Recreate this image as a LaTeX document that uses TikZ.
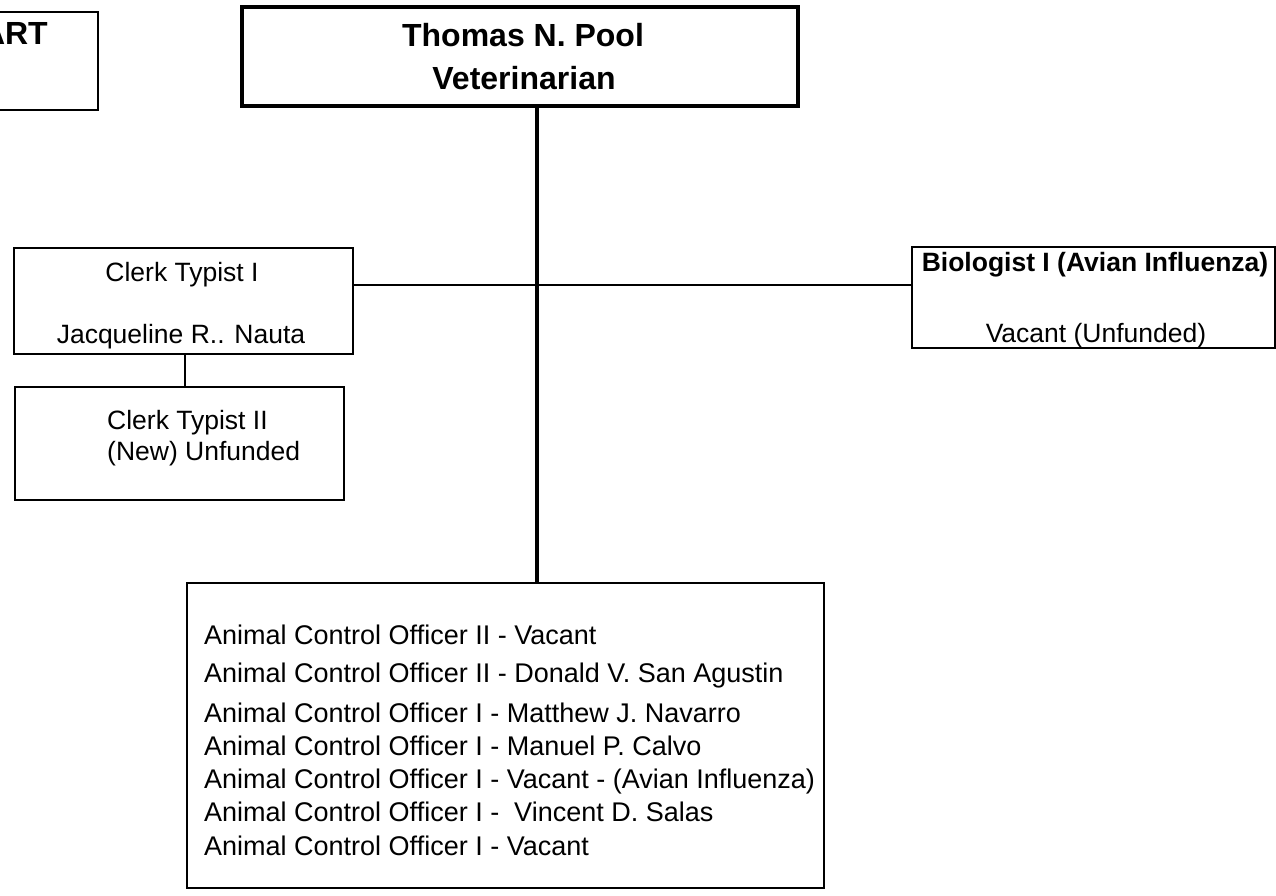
\documentclass[tikz,border=0pt]{standalone}
\usepackage{fontspec}
\setmainfont{Liberation Sans}
\begin{document}
\begin{tikzpicture}[x=1pt,y=-1pt,
  box/.style={draw, line width=1.8pt, inner sep=0pt, outer sep=0pt, anchor=north west},
  headbox/.style={box, line width=4pt},
  wire/.style={line width=1.5pt},
  trunkline/.style={line width=4pt},
  txt/.style={inner sep=0pt, anchor=base, font=\fontsize{26.5}{30}\selectfont},
  txtl/.style={txt, anchor=base west},
  listtxt/.style={inner sep=0pt, anchor=base west, font=\fontsize{27}{31}\selectfont},
  bold/.style={inner sep=0pt, anchor=base, font=\fontsize{26.5}{30}\selectfont\bfseries},
  title/.style={inner sep=0pt, anchor=base, font=\fontsize{32}{37}\selectfont\bfseries}]
\useasboundingbox (0,0) rectangle (1276,895);
\clip (0,0) rectangle (1276,895);

% boxes
\node[box, minimum width=108pt, minimum height=98pt] (chartbox) at (-10,12) {};
\node[headbox, minimum width=556pt, minimum height=99pt] (main) at (242,7) {};
\node[box, minimum width=339pt, minimum height=106pt] (clerk) at (14,248) {};
\node[box, minimum width=329pt, minimum height=113pt] (clerktwo) at (15,387) {};
\node[box, minimum width=363pt, minimum height=101pt] (bio) at (912,247) {};
\node[box, line width=2.4pt, minimum width=637pt, minimum height=305pt] (officers) at (187,583) {};

% helper coordinates for the connector lines
\coordinate (trunk) at (537,0);
\coordinate (branch) at (0,285);

% connectors
\draw[trunkline] (main.south -| trunk) -- (officers.north -| trunk);
\draw[wire] (clerk.east |- branch) -- (bio.west |- branch);
\draw[wire] (clerk.south -| 185,0) -- (clerktwo.north -| 185,0);

% texts
\node[title, anchor=base east] (charttxt) at (48,44) {ART};
\node[title] (mainname) at (523,46) {Thomas N. Pool};
\node[title] (maintitle) at (524,89) {Veterinarian};

\node[txt] (clerkpos) at (182,281) {Clerk Typist I};
\node[txt] (clerkname) at (181,343) {Jacqueline R.. Nauta};

\node[txtl] (clerktwopos) at (107,429) {Clerk Typist II};
\node[txtl] (clerktwoname) at (107,460) {(New) Unfunded};

\node[bold] (biopos) at (1095,271) {Biologist I (Avian Influenza)};
\node[txt] (bioname) at (1096,342) {Vacant (Unfunded)};

\node[listtxt] (aco1) at (204,644) {Animal Control Officer II - Vacant};
\node[listtxt] (aco2) at (204,682) {Animal Control Officer II - Donald V. San Agustin};
\node[listtxt] (aco3) at (204,722) {Animal Control Officer I - Matthew J. Navarro};
\node[listtxt] (aco4) at (204,755) {Animal Control Officer I - Manuel P. Calvo};
\node[listtxt] (aco5) at (204,788) {Animal Control Officer I - Vacant - (Avian Influenza)};
\node[listtxt] (aco6) at (204,821) {Animal Control Officer I - \ Vincent D. Salas};
\node[listtxt] (aco7) at (204,855) {Animal Control Officer I - Vacant};
\end{tikzpicture}
\end{document}
